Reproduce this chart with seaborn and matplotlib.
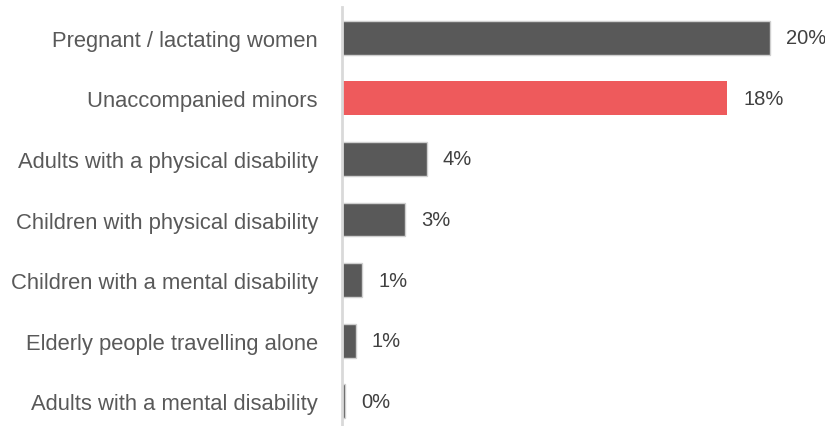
import matplotlib
matplotlib.use("Agg")
import matplotlib.pyplot as plt
import seaborn as sns
import pandas as pd
from matplotlib import font_manager

categories = [
    "Pregnant / lactating women",
    "Unaccompanied minors",
    "Adults with a physical disability",
    "Children with physical disability",
    "Children with a mental disability",
    "Elderly people travelling alone",
    "Adults with a mental disability",
]
values = [20.0, 18.0, 3.97, 2.94, 0.95, 0.65, 0.15]
value_labels = ["20%", "18%", "4%", "3%", "1%", "1%", "0%"]
highlight = [False, True, False, False, False, False, False]

sns.set_style("white")
names = {f.name for f in font_manager.fontManager.ttflist}
fam = "Liberation Sans Narrow" if "Liberation Sans Narrow" in names else "Liberation Sans"
plt.rcParams["font.family"] = [fam, "DejaVu Sans"]
fs = 18.5 if fam == "Liberation Sans Narrow" else 15.8
vfs = 17 if fam == "Liberation Sans Narrow" else 14.5

df = pd.DataFrame({"cat": categories, "val": values,
                   "grp": ["hi" if h else "lo" for h in highlight]})

fig = plt.figure(figsize=(8.25, 4.27), dpi=100)
ax = fig.add_axes([342 / 825, 0.0, 1 - 342 / 825, 1 - 8 / 427])

sns.barplot(data=df, y="cat", x="val", hue="grp", orient="h",
            palette={"lo": "#595959", "hi": "#EE5A5C"}, dodge=False,
            saturation=1, width=0.56, legend=False, ax=ax, order=categories)

for patch in ax.patches:
    fc = patch.get_facecolor()
    if fc[0] < 0.5:
        patch.set_edgecolor("#cfcfcf")
        patch.set_linewidth(1.0)
    else:
        patch.set_linewidth(0)

xmax = (825 - 342) / 21.4
ax.set_xlim(0, xmax)
ax.set_ylim(6.41, -0.51)

for i, (v, lab) in enumerate(zip(values, value_labels)):
    ax.text(v + 16 / 21.4, i, lab, va="center", ha="left",
            fontsize=vfs, color="#404040")

ax.set_xlabel("")
ax.set_ylabel("")
ax.set_xticks([])
ax.tick_params(axis="y", length=0, pad=17.3, labelsize=fs, labelcolor="#595959")
for s in ["top", "right", "bottom"]:
    ax.spines[s].set_visible(False)
ax.spines["left"].set_color("#d9d9d9")
ax.spines["left"].set_linewidth(2)

fig.savefig("out.png", dpi=100)
